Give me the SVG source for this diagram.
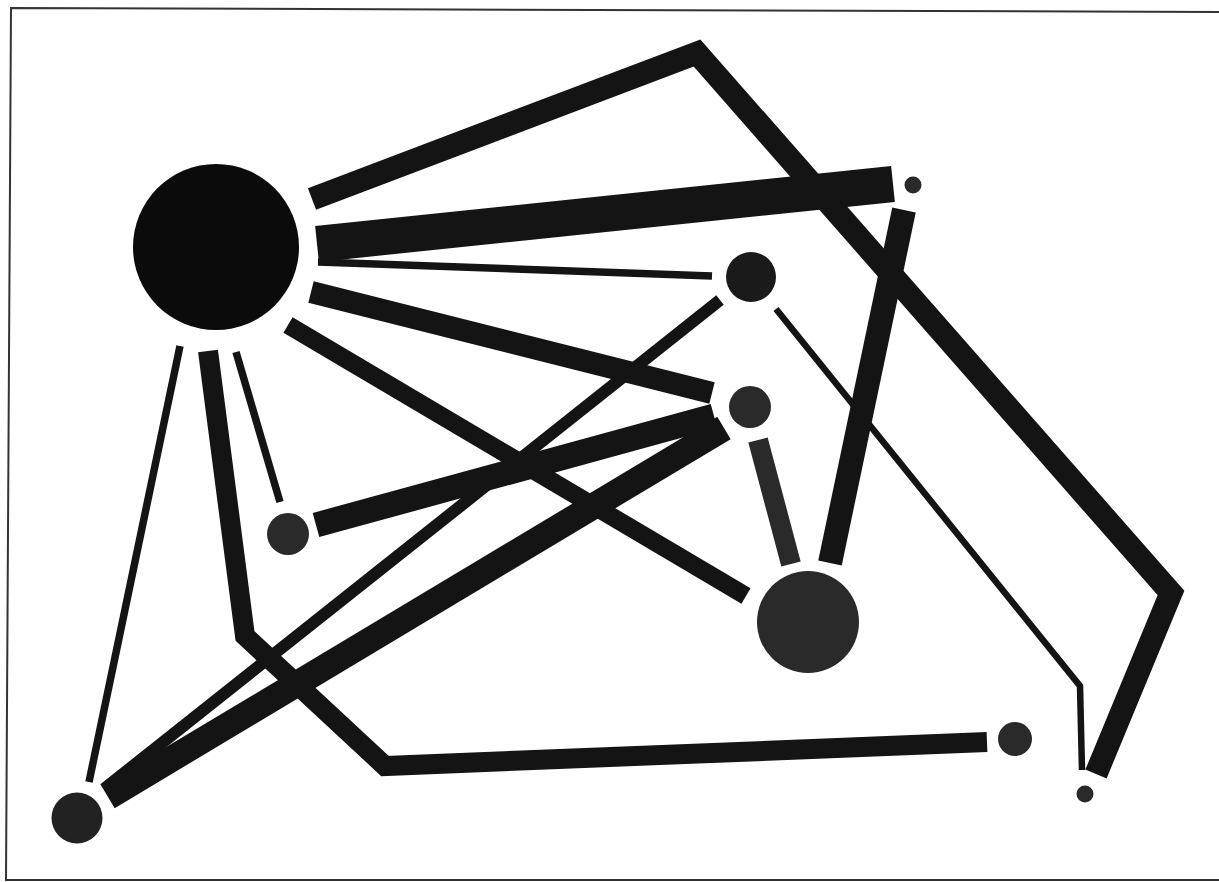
<svg xmlns="http://www.w3.org/2000/svg" width="1219" height="882" viewBox="0 0 1219 882">
<style>
.e{fill:none;stroke:#141414;stroke-linecap:butt;stroke-linejoin:miter}
.g{stroke:#2a2a2a}
.n{fill:#2a2a2a}
.k{fill:#0b0b0b}
</style>
<rect width="1219" height="882" fill="#fff"/>
<path d="M1219,12 L11,8 L6,880 L1219,880" fill="none" stroke="#333" stroke-width="2"/>
<g id="connectors">
<polyline class="e" points="312,199 697,53 1171,593 1096,774" stroke-width="23"/>
<line class="e" x1="317" y1="244" x2="893" y2="184" stroke-width="36"/>
<line class="e" x1="318" y1="262" x2="712" y2="276" stroke-width="7.5"/>
<line class="e" x1="311" y1="292" x2="712" y2="393" stroke-width="22"/>
<line class="e" x1="288" y1="325" x2="746" y2="596" stroke-width="18"/>
<line class="e" x1="236" y1="352" x2="280" y2="502" stroke-width="7.5"/>
<line class="e" x1="180" y1="346" x2="89" y2="782" stroke-width="7.5"/>
<polyline class="e" points="208,351 245,636 385,766 987,742" stroke-width="20"/>
<line class="e" x1="316" y1="525" x2="714" y2="416" stroke-width="25"/>
<line class="e" x1="108" y1="797" x2="724" y2="428" stroke-width="26"/>
<line class="e" x1="104" y1="789" x2="720" y2="300" stroke-width="12"/>
<line class="e g" x1="758" y1="440" x2="791" y2="564" stroke-width="20"/>
<line class="e" x1="904" y1="210" x2="830" y2="563" stroke-width="24"/>
<polyline class="e" points="776,309 1080,686 1082,770" stroke-width="6.5"/>
</g>
<g id="node-a"><circle class="k" cx="216" cy="247" r="83"/></g>
<g id="node-b"><circle class="n" cx="913" cy="185" r="8.5"/></g>
<g id="node-c"><circle fill="#1a1a1a" cx="751" cy="277" r="25"/></g>
<g id="node-d"><circle class="n" cx="750" cy="407" r="21"/></g>
<g id="node-e"><circle class="n" cx="288" cy="534" r="21"/></g>
<g id="node-f"><circle class="n" cx="808" cy="622" r="51"/></g>
<g id="node-g"><circle class="n" cx="1015" cy="739" r="17"/></g>
<g id="node-h"><circle class="n" cx="1085" cy="794" r="8.5"/></g>
<g id="node-i"><circle fill="#222" cx="77" cy="818" r="25.5"/></g>
</svg>
